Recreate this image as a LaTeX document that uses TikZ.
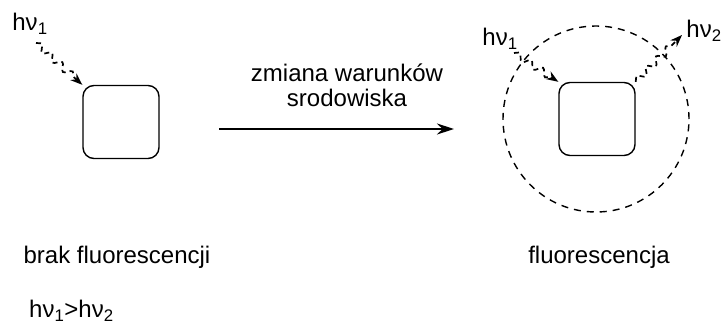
\documentclass[tikz,border=0pt]{standalone}
\usepackage{fontspec}
\setmainfont{Liberation Sans}
\usetikzlibrary{arrows.meta,decorations.pathmorphing}
\begin{document}
\begin{tikzpicture}[x=1pt,y=-1pt,
  lbl/.style={inner sep=0pt,font=\fontsize{24}{25}\selectfont},
  molbox/.style={draw,line width=1.4pt,rounded corners=11pt,minimum width=76pt,minimum height=73pt,inner sep=0pt},
  photon/.style={dash pattern=on 5pt off 4pt,line width=1.7pt,decorate,
    decoration={snake,amplitude=3.5pt,segment length=14pt,post length=8pt},
    -{Stealth[length=12pt,width=9pt]}},
  shell/.style={draw,line width=1.4pt,dash pattern=on 7pt off 6pt}]
\useasboundingbox (0,0) rectangle (722,324);
% molecule without the environment
\node[molbox] (boxL) at (121,122) {};
\node[lbl] (hvL) at (30,24) {hν\textsubscript{1}};
\coordinate (inL) at (36,43);
\draw[photon] (inL) -- (boxL.north west);
% change of conditions
\coordinate (arrS) at (219,129);
\coordinate (arrE) at (454,129);
\draw[line width=1.4pt,-{Stealth[length=17pt,width=11pt]}] (arrS) -- (arrE);
\node[lbl,align=center] (cond) at (347,85) {zmiana warunków\\srodowiska};
% molecule inside the environment
\node[shell,circle,minimum size=186pt,inner sep=0pt] (env) at (596,119) {};
\node[molbox] (boxR) at (597,119) {};
\node[lbl] (hv1R) at (500,39) {hν\textsubscript{1}};
\node[lbl] (hv2R) at (704,31) {hν\textsubscript{2}};
\coordinate (inR) at (514,53);
\coordinate (outR) at (682,35);
\draw[photon] (inR) -- (boxR.north west);
\draw[photon] (boxR.north east) -- (outR);
% captions
\node[lbl] (capL) at (117,257) {brak fluorescencji};
\node[lbl] (capR) at (599,257) {fluorescencja};
\node[lbl,anchor=west] (ineq) at (29,311) {hν\textsubscript{1}>hν\textsubscript{2}};
\end{tikzpicture}
\end{document}
